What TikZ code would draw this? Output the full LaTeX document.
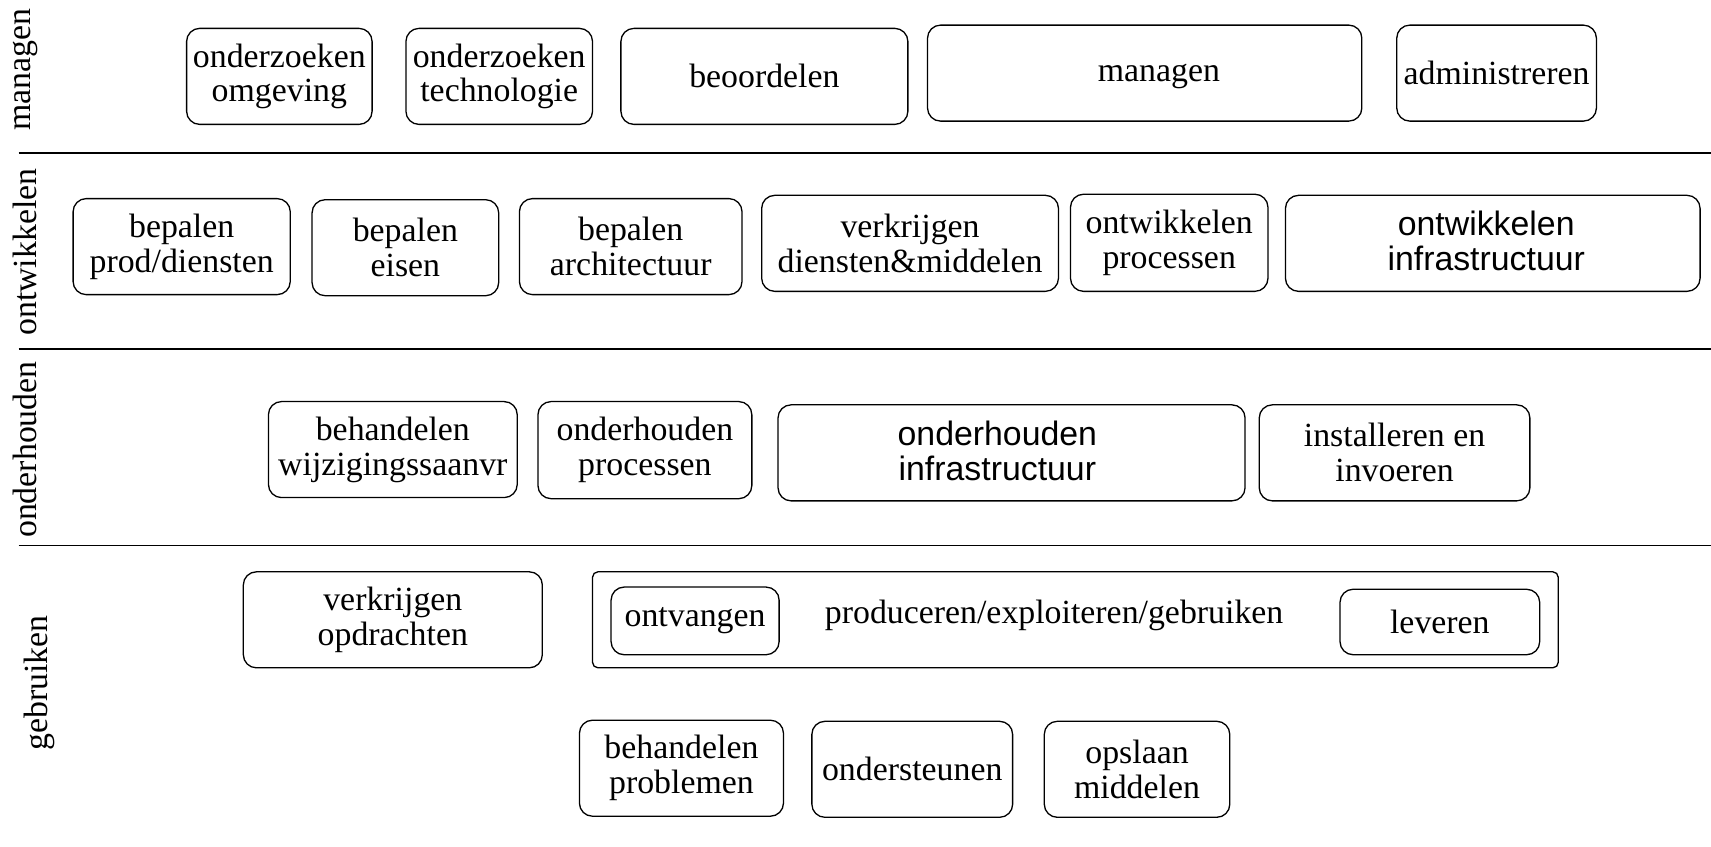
\documentclass[tikz,border=0pt]{standalone}
\usepackage{fontspec}
\setmainfont{Liberation Serif}
\newfontfamily\arialf{Liberation Sans}
\begin{document}
\begin{tikzpicture}[x=0.5pt,y=-0.5pt,
  bx/.style n args={2}{draw, line width=0.6pt, rounded corners=6pt,
    minimum width=#1*0.5pt, minimum height=#2*0.5pt, inner sep=0pt,
    align=center, font=\fontsize{15.5}{16}\selectfont},
  txt/.style={inner sep=0pt, align=center, font=\fontsize{15.5}{16}\selectfont},
  sans/.style={inner sep=0pt, align=center, font=\arialf\fontsize{15.5}{16}\selectfont},
  lane/.style={inner sep=0pt, rotate=90, font=\fontsize{15.5}{16}\selectfont},
  sep/.style={line width=0.75pt}]
\useasboundingbox (0,0) rectangle (1568,776);
% lane labels
\node[lane] (lman) at (23,64) {managen};
\node[lane] (lont) at (23,231) {ontwikkelen};
\node[lane] (lond) at (23,412) {onderhouden};
\node[lane] (lgeb) at (36,626) {gebruiken};
% separators
\coordinate (s1a) at (17,140); \coordinate (s1b) at (1568,140);
\coordinate (s2a) at (17,320); \coordinate (s2b) at (1568,320);
\coordinate (s3a) at (17,500); \coordinate (s3b) at (1568,500);
\draw[sep] (s1a) -- (s1b);
\draw[sep] (s2a) -- (s2b);
\draw[sep] (s3a) -- (s3b);
% managen
\node[bx={170}{88}] (omg) at (256,70) {onderzoeken\\omgeving};
\node[bx={171}{88}] (tech) at (457.5,70) {onderzoeken\\technologie};
\node[bx={263}{88}] (beo) at (700.5,70) {beoordelen};
\node[bx={398}{88}] (man) at (1049,67) {};
\node[txt] (mantxt) at (1062,70) {managen};
\node[bx={183}{88}] (adm) at (1371.5,67) {administreren};
% ontwikkelen
\node[bx={199}{88}] (prod) at (166.5,226) {bepalen\\prod/diensten};
\node[bx={171}{88}] (eis) at (371.5,227) {bepalen\\eisen};
\node[bx={204}{88}] (arch) at (578,226) {bepalen\\architectuur};
\node[bx={272}{88}] (verk) at (834,223) {verkrijgen\\diensten\&middelen};
\node[bx={181}{89}] (oproc) at (1071.5,222.5) {ontwikkelen\\processen};
\node[bx={380}{88}] (oinf) at (1368,223) {};
\node[sans] (oinftxt) at (1362,221) {ontwikkelen\\infrastructuur};
% onderhouden
\node[bx={228}{88}] (wijz) at (360,412) {behandelen\\wijzigingssaanvr};
\node[bx={196}{89}] (hproc) at (591,412.5) {onderhouden\\processen};
\node[bx={428}{88}] (hinf) at (927,415) {};
\node[sans] (hinftxt) at (914,413) {onderhouden\\infrastructuur};
\node[bx={248}{88}] (inst) at (1278,415) {installeren en\\invoeren};
% gebruiken
\node[bx={274}{88}] (opdr) at (360,568) {verkrijgen\\opdrachten};
\node[bx={885}{88}, rounded corners=2.5pt] (pexg) at (985.5,568) {};
\node[txt] (pexgtxt) at (966,564) {produceren/exploiteren/gebruiken};
\node[bx={154}{62}] (ontv) at (637,569) {ontvangen};
\node[bx={183}{60}] (lev) at (1319.5,570) {leveren};
\node[bx={187}{88}] (probl) at (624.5,704) {behandelen\\problemen};
\node[bx={184}{88}] (onst) at (836,705) {ondersteunen};
\node[bx={170}{88}] (opsl) at (1042,705) {opslaan\\middelen};
\end{tikzpicture}
\end{document}
